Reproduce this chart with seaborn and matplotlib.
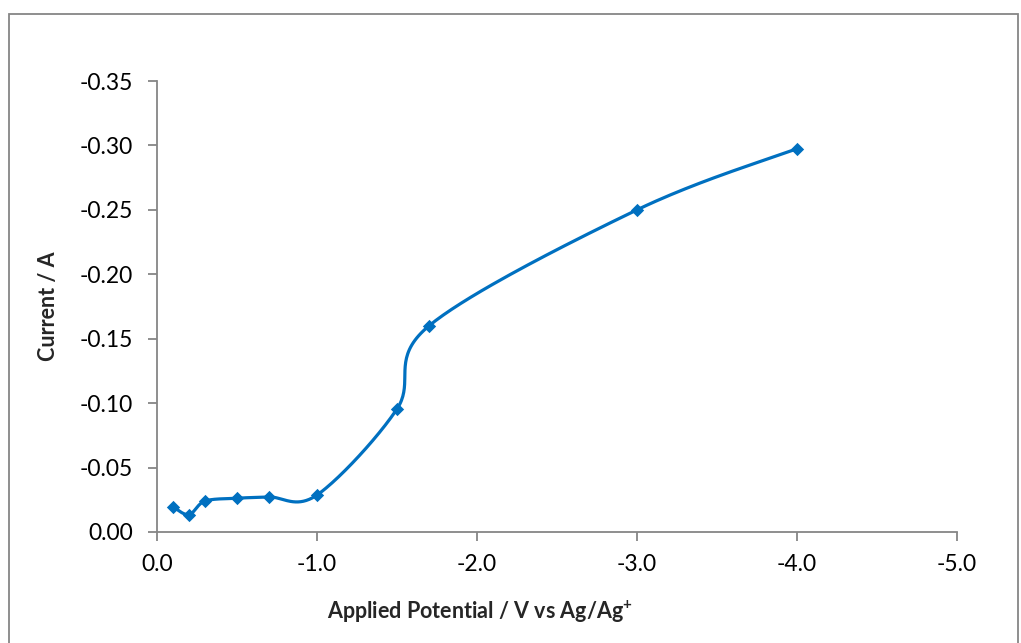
import numpy as np
import pandas as pd
import matplotlib
matplotlib.use("Agg")
import matplotlib.pyplot as plt
import seaborn as sns
from matplotlib.patches import Rectangle
from matplotlib.ticker import FixedLocator, FuncFormatter

# ---- data ----
potential = [-0.1, -0.2, -0.3, -0.5, -0.7, -1.0, -1.5, -1.7, -3.0, -4.0]
current = [-0.0195, -0.0135, -0.0240, -0.0262, -0.0272, -0.0287, -0.0955, -0.1600, -0.2500, -0.2975]
x_ticks = [0.0, -1.0, -2.0, -3.0, -4.0, -5.0]
y_ticks = [0.0, -0.05, -0.10, -0.15, -0.20, -0.25, -0.30, -0.35]
x_label = "Applied Potential / V vs Ag/Ag$^{\\mathbf{+}}$"
y_label = "Current / A"

sns.set_style("white")
plt.rcParams["font.family"] = ["Lato", "DejaVu Sans"]
plt.rcParams["mathtext.fontset"] = "custom"
plt.rcParams["mathtext.rm"] = "Lato"
plt.rcParams["mathtext.bf"] = "Lato:bold"
plt.rcParams["axes.unicode_minus"] = False

BLUE = "#0070C0"
GRAY = "#868686"

# smoothed curve (Excel-like Catmull-Rom Bezier through data points)
px = np.array(potential)
py = np.array(current)
n = len(px)
sx, sy = [], []
t = np.linspace(0, 1, 40)
for i in range(n - 1):
    p0 = np.array([px[max(i - 1, 0)], py[max(i - 1, 0)]])
    p1 = np.array([px[i], py[i]])
    p2 = np.array([px[i + 1], py[i + 1]])
    p3 = np.array([px[min(i + 2, n - 1)], py[min(i + 2, n - 1)]])
    c1 = p1 + (p2 - p0) / 6.0
    c2 = p2 - (p3 - p1) / 6.0
    for tt in t:
        b = ((1 - tt) ** 3) * p1 + 3 * ((1 - tt) ** 2) * tt * c1 + 3 * (1 - tt) * tt ** 2 * c2 + tt ** 3 * p2
        sx.append(b[0]); sy.append(b[1])
curve = pd.DataFrame({"x": sx, "y": sy})
pts = pd.DataFrame({"x": potential, "y": current})

fig = plt.figure(figsize=(10.21, 6.43), dpi=100)
ax = fig.add_axes([157 / 1021, 1 - 532 / 643, 800 / 1021, 451 / 643])

sns.lineplot(data=curve, x="x", y="y", sort=False, estimator=None, color=BLUE, linewidth=2.3, ax=ax)
sns.scatterplot(data=pts, x="x", y="y", marker="D", s=46, color=BLUE, edgecolor=BLUE, linewidth=0, ax=ax, zorder=3)

ax.set_xlim(0, -5)
ax.set_ylim(0, -0.35)
ax.xaxis.set_major_locator(FixedLocator(x_ticks))
ax.yaxis.set_major_locator(FixedLocator(y_ticks))
ax.xaxis.set_major_formatter(FuncFormatter(lambda v, p: "0.0" if abs(v) < 1e-9 else f"{v:.1f}"))
ax.yaxis.set_major_formatter(FuncFormatter(lambda v, p: "0.00" if abs(v) < 1e-9 else f"{v:.2f}"))

for s in ["top", "right"]:
    ax.spines[s].set_visible(False)
for s in ["left", "bottom"]:
    ax.spines[s].set_color(GRAY)
    ax.spines[s].set_linewidth(1.3)
ax.tick_params(axis="both", which="major", direction="out", length=6.5, width=1.3, color=GRAY,
               labelsize=16.5, labelcolor="black", left=True, bottom=True)
ax.tick_params(axis="y", pad=11)
ax.tick_params(axis="x", pad=9)

ax.set_xlabel(x_label, fontsize=15.5, fontweight="bold")
ax.set_ylabel(y_label, fontsize=15.5, fontweight="bold")
ax.xaxis.set_label_coords(0.404, -0.177)
ax.yaxis.set_label_coords(-0.136, 0.5)
ax.xaxis.label.set_va("center")
ax.yaxis.label.set_va("center")

fig.patches.append(Rectangle((9 / 1021, -0.05), 1009 / 1021, 1.05 - 14 / 643, transform=fig.transFigure,
                             fill=False, edgecolor=GRAY, linewidth=1.3))

fig.savefig("out.png", dpi=100)
